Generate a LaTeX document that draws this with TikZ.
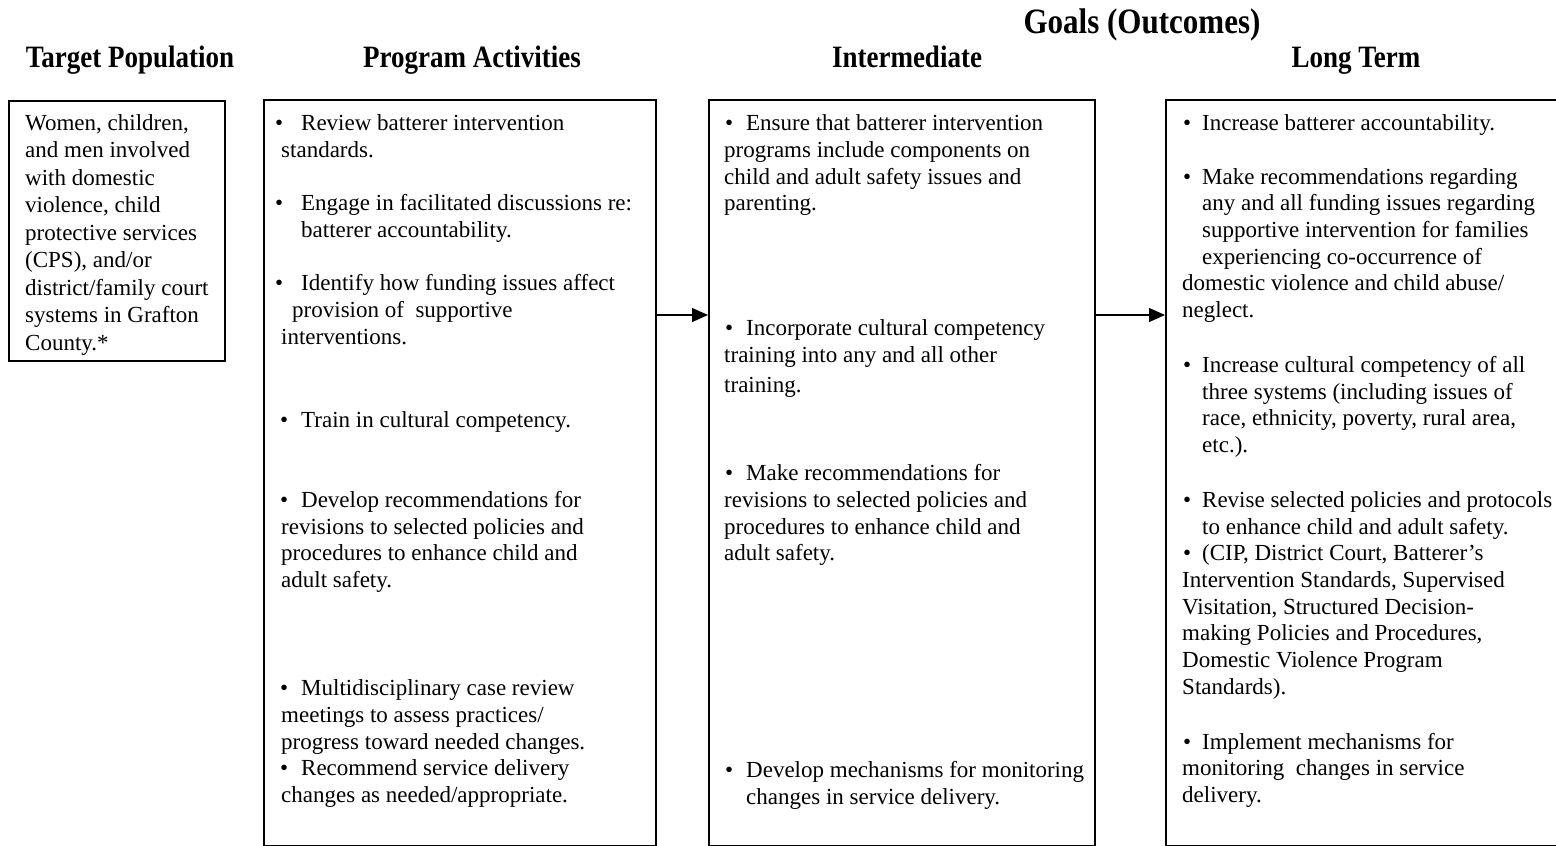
\documentclass[tikz,border=0pt]{standalone}
\usepackage{fontspec}
\setmainfont{Liberation Serif}
\usetikzlibrary{arrows.meta}
\newcommand\txtline[4]{\node[txt] (#1) at (#2,#3) {#4};}
\newcommand\bul[1]{\makebox[#1pt][l]{\textbullet}}
\newcommand\hdrtext[1]{\scalebox{1}[1.15]{#1}}
\begin{document}
\begin{tikzpicture}[x=1pt,y=-1pt,
  txt/.style={anchor=base west,inner sep=0pt,font=\fontsize{23}{27}\selectfont},
  hdr/.style={anchor=base,inner sep=0pt,font=\fontsize{27}{30}\selectfont\bfseries},
  goal/.style={anchor=base,inner sep=0pt,font=\fontsize{31}{34}\selectfont\bfseries},
  box/.style={draw,line width=1.6pt,anchor=north west,inner sep=0pt},
  arr/.style={line width=1.3pt,-{Triangle[length=16pt,width=14pt]}}]
\useasboundingbox (0,0) rectangle (1556,846);

% headers
\node[goal] (hgoal) at (1142,33) {\hdrtext{Goals (Outcomes)}};
\node[hdr] (htp) at (130,67) {\hdrtext{Target Population}};
\node[hdr] (hpa) at (472,67) {\hdrtext{Program Activities}};
\node[hdr] (him) at (907,67) {\hdrtext{Intermediate}};
\node[hdr] (hlt) at (1356,67) {\hdrtext{Long Term}};

% boxes
\node[box,minimum width=216pt,minimum height=260pt] (b1) at (8,100) {};
\node[box,minimum width=392pt,minimum height=746pt] (b2) at (263,99) {};
\node[box,minimum width=386pt,minimum height=746pt] (b3) at (708,99) {};
\node[box,minimum width=395pt,minimum height=746pt] (b4) at (1165,99) {};

% arrows
\coordinate (ay) at (0,315);
\draw[arr] (b2.east |- ay) -- (b3.west |- ay);
\draw[arr] (b3.east |- ay) -- (b4.west |- ay);

% box 1
\txtline{t1}{25}{130}{Women, children,}
\txtline{t2}{25}{157.5}{and men involved}
\txtline{t3}{25}{185}{with domestic}
\txtline{t4}{25}{212.5}{violence, child}
\txtline{t5}{25}{240}{protective services}
\txtline{t6}{25}{267.5}{(CPS), and/or}
\txtline{t7}{25}{295}{district/family court}
\txtline{t8}{25}{322.5}{systems in Grafton}
\txtline{t9}{25}{350}{County.*}

% box 2
\txtline{a1}{275}{130}{\bul{26}Review batterer intervention}
\txtline{a2}{281}{157}{standards.}
\txtline{a3}{275}{210}{\bul{26}Engage in facilitated discussions re:}
\txtline{a4}{301}{237}{batterer accountability.}
\txtline{a5}{275}{290}{\bul{26}Identify how funding issues affect}
\txtline{a6}{292}{317}{provision of\ \ supportive}
\txtline{a7}{281}{344}{interventions.}
\txtline{a8}{280}{427}{\bul{21}Train in cultural competency.}
\txtline{a9}{280}{507}{\bul{21}Develop recommendations for}
\txtline{a10}{281}{534}{revisions to selected policies and}
\txtline{a11}{281}{560}{procedures to enhance child and}
\txtline{a12}{281}{587}{adult safety.}
\txtline{a13}{280}{695}{\bul{21}Multidisciplinary case review}
\txtline{a14}{281}{722}{meetings to assess practices/}
\txtline{a15}{281}{749}{progress toward needed changes.}
\txtline{a16}{280}{775}{\bul{21}Recommend service delivery}
\txtline{a17}{281}{802}{changes as needed/appropriate.}

% box 3
\txtline{c1}{725}{130}{\bul{21}Ensure that batterer intervention}
\txtline{c2}{724}{157}{programs include components on}
\txtline{c3}{724}{184}{child and adult safety issues and}
\txtline{c4}{724}{210}{parenting.}
\txtline{c5}{725}{335}{\bul{21}Incorporate cultural competency}
\txtline{c6}{724}{362}{training into any and all other}
\txtline{c7}{724}{392}{training.}
\txtline{c8}{725}{480}{\bul{21}Make recommendations for}
\txtline{c9}{724}{507}{revisions to selected policies and}
\txtline{c10}{724}{534}{procedures to enhance child and}
\txtline{c11}{724}{560}{adult safety.}
\txtline{c12}{725}{777}{\bul{21}Develop mechanisms for monitoring}
\txtline{c13}{746}{804}{changes in service delivery.}

% box 4
\txtline{d1}{1183}{130}{\bul{19}Increase batterer accountability.}
\txtline{d2}{1183}{184}{\bul{19}Make recommendations regarding}
\txtline{d3}{1202}{210}{any and all funding issues regarding}
\txtline{d4}{1202}{237}{supportive intervention for families}
\txtline{d5}{1202}{264}{experiencing co-occurrence of}
\txtline{d6}{1182}{290}{domestic violence and child abuse/}
\txtline{d7}{1182}{317}{neglect.}
\txtline{d8}{1183}{372}{\bul{19}Increase cultural competency of all}
\txtline{d9}{1202}{399}{three systems (including issues of}
\txtline{d10}{1202}{425}{race, ethnicity, poverty, rural area,}
\txtline{d11}{1202}{452}{etc.).}
\txtline{d12}{1183}{507}{\bul{19}Revise selected policies and protocols}
\txtline{d13}{1202}{534}{to enhance child and adult safety.}
\txtline{d14}{1183}{560}{\bul{19}(CIP, District Court, Batterer’s}
\txtline{d15}{1182}{587}{Intervention Standards, Supervised}
\txtline{d16}{1182}{614}{Visitation, Structured Decision-}
\txtline{d17}{1182}{640}{making Policies and Procedures,}
\txtline{d18}{1182}{667}{Domestic Violence Program}
\txtline{d19}{1182}{694}{Standards).}
\txtline{d20}{1183}{749}{\bul{19}Implement mechanisms for}
\txtline{d21}{1182}{775}{monitoring\ \ changes in service}
\txtline{d22}{1182}{802}{delivery.}
\end{tikzpicture}
\end{document}
